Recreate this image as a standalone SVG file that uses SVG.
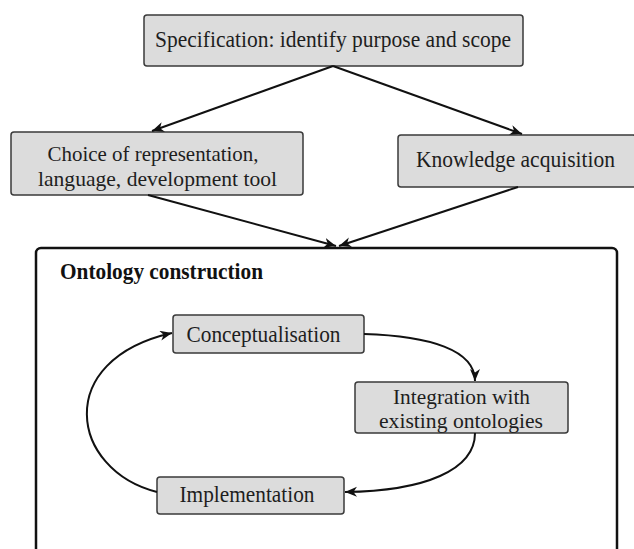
<svg xmlns="http://www.w3.org/2000/svg" width="634" height="549" viewBox="0 0 634 549">
<defs>
<style>
.box{fill:#dcdcdc;stroke:#3a3a3a;stroke-width:1.5}
.t{font-family:'Liberation Serif','Times New Roman',Times,serif;font-size:23.5px;fill:#1e1e1e;text-anchor:middle}
.t2{font-family:'Liberation Serif','Times New Roman',Times,serif;font-size:21px;fill:#1e1e1e;text-anchor:middle}
.b{font-family:'Liberation Serif','Times New Roman',Times,serif;font-size:23.5px;font-weight:bold;fill:#111}
.c{fill:none;stroke:#111;stroke-width:2}
.frame{fill:none;stroke:#111;stroke-width:2.5}
</style>
<marker id="ah" markerUnits="userSpaceOnUse" markerWidth="13" markerHeight="11" refX="12" refY="5" orient="auto">
<path d="M0,0 L12,5 L0,10 L3.5,5 z" fill="#111"/>
</marker>
</defs>
<rect width="634" height="549" fill="#fff"/>
<g id="construction">
<rect class="frame" x="36" y="248" width="581" height="330" rx="5"/>
<text class="b" x="60" y="279" textLength="203" lengthAdjust="spacingAndGlyphs">Ontology construction</text>
</g>
<g id="spec">
<rect class="box" x="144" y="15" width="379" height="51" rx="3"/>
<text class="t" x="333" y="47" textLength="356" lengthAdjust="spacingAndGlyphs">Specification: identify purpose and scope</text>
</g>
<g id="choice">
<rect class="box" x="11" y="132" width="292" height="63" rx="3"/>
<text class="t2" x="153" y="161" textLength="211" lengthAdjust="spacingAndGlyphs">Choice of representation,</text>
<text class="t2" x="157.5" y="186" textLength="239" lengthAdjust="spacingAndGlyphs">language, development tool</text>
</g>
<g id="knowledge">
<rect class="box" x="398" y="135" width="238" height="52" rx="3"/>
<text class="t" x="515.5" y="167" textLength="199" lengthAdjust="spacingAndGlyphs">Knowledge acquisition</text>
</g>
<g id="conceptualisation">
<rect class="box" x="173" y="315" width="191" height="38" rx="3"/>
<text class="t" x="263.5" y="342" textLength="154" lengthAdjust="spacingAndGlyphs">Conceptualisation</text>
</g>
<g id="integration">
<rect class="box" x="355" y="382" width="213" height="51" rx="3"/>
<text class="t2" x="461.5" y="404" textLength="137" lengthAdjust="spacingAndGlyphs">Integration with</text>
<text class="t2" x="461" y="427.5" textLength="164" lengthAdjust="spacingAndGlyphs">existing ontologies</text>
</g>
<g id="implementation">
<rect class="box" x="157" y="477" width="187" height="37" rx="3"/>
<text class="t" x="247" y="502" textLength="135" lengthAdjust="spacingAndGlyphs">Implementation</text>
</g>
<g id="connectors">
<line class="c" x1="333" y1="66" x2="152" y2="131" marker-end="url(#ah)"/>
<line class="c" x1="333" y1="66" x2="522" y2="134" marker-end="url(#ah)"/>
<line class="c" x1="148" y1="195" x2="336" y2="246" marker-end="url(#ah)"/>
<line class="c" x1="518" y1="187" x2="339" y2="246" marker-end="url(#ah)"/>
<path class="c" d="M364,334 C430,336 475,350 475,381" marker-end="url(#ah)"/>
<path class="c" d="M475,433 C475,470 425,491 345,492" marker-end="url(#ah)"/>
<path class="c" d="M157,492 C70,470 52,360 172,333" marker-end="url(#ah)"/>
</g>
</svg>
